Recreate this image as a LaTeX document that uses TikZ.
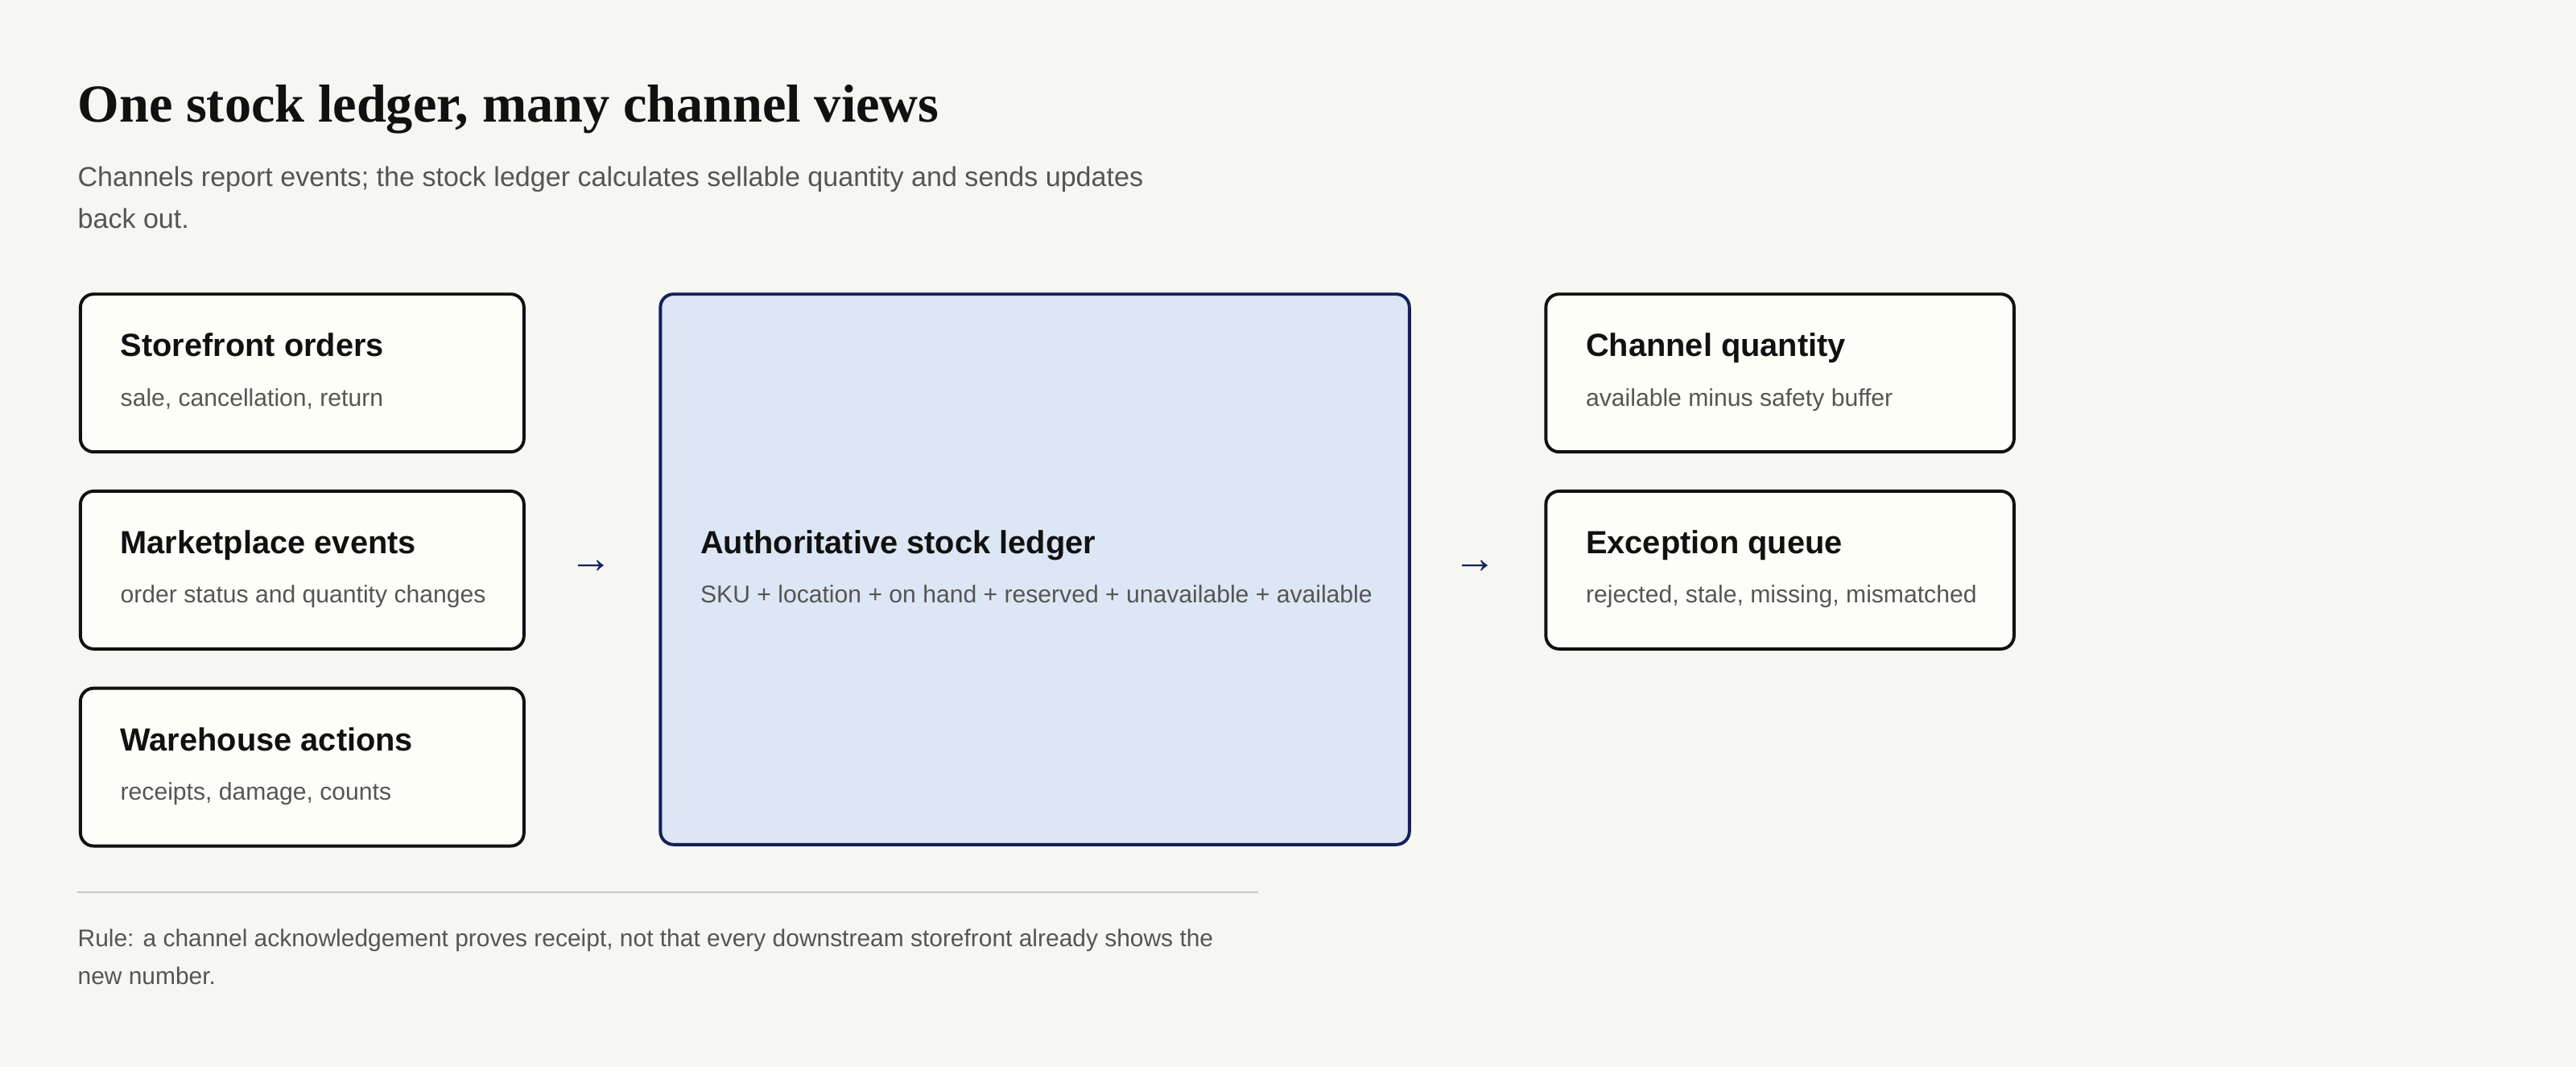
\documentclass[tikz,border=0pt]{standalone}
\usepackage{fontspec}
\setmainfont{Liberation Serif}
\setsansfont{Liberation Sans}
\usetikzlibrary{positioning,calc}
\definecolor{bgc}{HTML}{F6F7F2}
\definecolor{cardc}{HTML}{FEFEF9}
\definecolor{ledgerc}{HTML}{DCE6F4}
\definecolor{navy}{HTML}{14205A}
\definecolor{inkc}{HTML}{111111}
\definecolor{mutec}{HTML}{555555}
\definecolor{rulec}{HTML}{C8C8C4}
\begin{document}
\begin{tikzpicture}[
  x=0.02cm, y=-0.02cm,
  node distance=0.44cm,
  card/.style={rectangle, draw=inkc, line width=1.1pt, rounded corners=0.16cm, fill=cardc,
    minimum width=5.4cm, minimum height=1.92cm, inner sep=0pt, anchor=north west},
  wide/.style={card, minimum width=5.7cm},
  head/.style={anchor=base west, font=\sffamily\bfseries\fontsize{11.1}{13}\selectfont, text=inkc, inner sep=0pt},
  sub/.style={anchor=base west, font=\sffamily\fontsize{8.4}{10}\selectfont, text=mutec, inner sep=0pt},
  flow/.style={font=\fontsize{15}{15}\selectfont, text=navy, inner sep=0pt}
]
\fill[bgc] (0,0) rectangle (1568,649);

% Title
\node[anchor=base west, inner sep=0pt, font=\bfseries\fontsize{18.5}{22}\selectfont, text=inkc] (title) at (47,74) {One stock ledger, many channel views};
\node[anchor=base west, inner sep=0pt, align=left, text=mutec, font=\sffamily\fontsize{9.5}{14.6}\selectfont] (intro) at (47,139)
  {Channels report events; the stock ledger calculates sellable quantity and sends updates\\back out.};

% Inputs
\node[card] (store) at (48,178) {};
\node[card, below=of store.south west, anchor=north west] (market) {};
\node[card, below=of market.south west, anchor=north west] (ware) {};

% Ledger
\node[card, draw=navy, fill=ledgerc, minimum width=9.12cm, minimum height=6.7cm] (ledger) at (401,178) {};

% Outputs
\node[wide] (chan) at (940,178) {};
\node[wide, below=of chan.south west, anchor=north west] (exc) {};

% Labels
\node[head] at ($(store.north west)+(25,39)$) {Storefront orders};
\node[sub] at ($(store.north west)+(25,69)$) {sale, cancellation, return};
\node[head] at ($(market.north west)+(25,39)$) {Marketplace events};
\node[sub] at ($(market.north west)+(25,69)$) {order status and quantity changes};
\node[head] at ($(ware.north west)+(25,39)$) {Warehouse actions};
\node[sub] at ($(ware.north west)+(25,69)$) {receipts, damage, counts};
\node[head] at ($(ledger.north west)+(25,159)$) {Authoritative stock ledger};
\node[sub] at ($(ledger.north west)+(25,189)$) {SKU + location + on hand + reserved + unavailable + available};
\node[head] at ($(chan.north west)+(25,39)$) {Channel quantity};
\node[sub] at ($(chan.north west)+(25,69)$) {available minus safety buffer};
\node[head] at ($(exc.north west)+(25,39)$) {Exception queue};
\node[sub] at ($(exc.north west)+(25,69)$) {rejected, stale, missing, mismatched};

% Flow marks
\node[flow] (inflow) at (360,345) {→};
\node[flow] (outflow) at (898,345) {→};

% Footer
\coordinate (ruleA) at (47,543);
\coordinate (ruleB) at (766,543);
\draw[rulec, line width=0.6pt] (ruleA) -- (ruleB);
\node[anchor=base west, inner sep=0pt, align=left, text=mutec, font=\sffamily\fontsize{8.35}{13.2}\selectfont] (rule) at (47,599)
  {Rule: a channel acknowledgement proves receipt, not that every downstream storefront already shows the\\new number.};
\end{tikzpicture}
\end{document}
